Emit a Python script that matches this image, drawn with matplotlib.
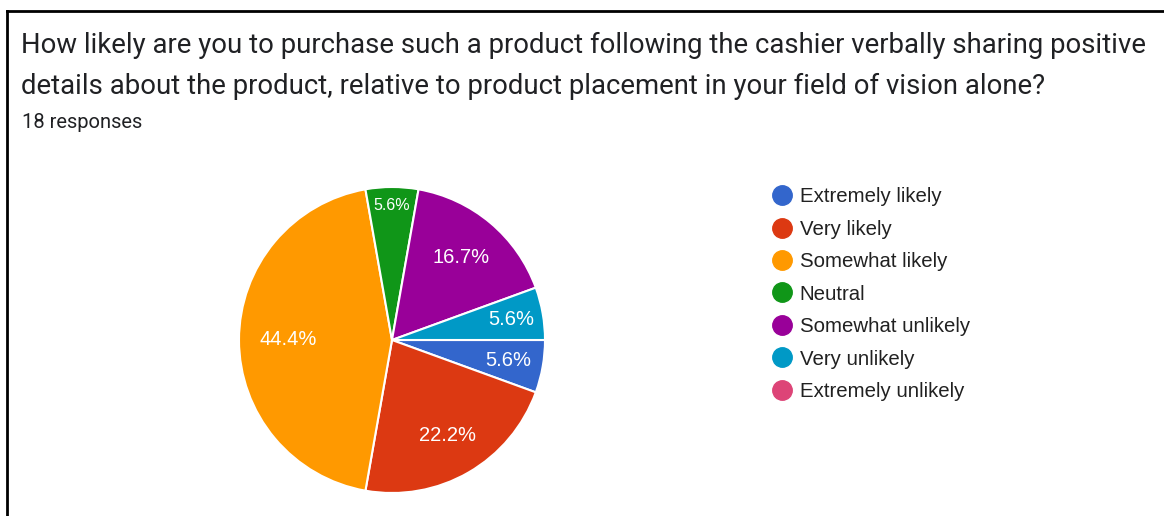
import numpy as np
import matplotlib.pyplot as plt
from matplotlib.lines import Line2D

# responses per answer (18 total)
answers = ["Extremely likely", "Very likely", "Somewhat likely", "Neutral",
           "Somewhat unlikely", "Very unlikely", "Extremely unlikely"]
counts = [1, 4, 8, 1, 3, 1, 0]
colors = ["#3366cc", "#dc3912", "#ff9900", "#109618",
          "#990099", "#0099c6", "#dd4477"]
label_dist = [0.77, 0.72, 0.68, 0.88, 0.70, 0.79]
label_size = [14.5, 14.5, 14.5, 11.5, 14.5, 14.5]

title = ("How likely are you to purchase such a product following the cashier verbally sharing positive\n"
         "details about the product, relative to product placement in your field of vision alone?")
subtitle = "18 responses"

W, H = 1164, 516
fig = plt.figure(figsize=(W / 100, H / 100), dpi=100)

# card border: left and top edges only
fig.add_artist(Line2D([7 / W, 7 / W], [0, 1 - 11 / H], transform=fig.transFigure,
                      color="black", lw=2))
fig.add_artist(Line2D([7 / W, 1], [1 - 11 / H, 1 - 11 / H], transform=fig.transFigure,
                      color="black", lw=2))

fig.text(21 / W, 1 - 45 / H, title.split("\n")[0], ha="left", va="center", fontsize=19.8,
         family="Roboto", color="#202124")
fig.text(21 / W, 1 - 86 / H, title.split("\n")[1], ha="left", va="center", fontsize=19.8,
         family="Roboto", color="#202124")
fig.text(22 / W, 1 - 122 / H, subtitle, ha="left", va="center", fontsize=14.5,
         family="Roboto", color="#202124")

cx, cy, r = 392, 516 - 340, 153
ax = fig.add_axes([(cx - r) / W, (cy - r) / H, 2 * r / W, 2 * r / H])
nz = [(c, col) for c, col in zip(counts, colors) if c > 0]
wedges, _ = ax.pie([c for c, _ in nz], colors=[col for _, col in nz], startangle=0,
                   counterclock=False, radius=1,
                   wedgeprops=dict(edgecolor="white", linewidth=1.5))
total = sum(counts)
for w, (c, _), d, fs in zip(wedges, nz, label_dist, label_size):
    ang = np.deg2rad((w.theta1 + w.theta2) / 2)
    ax.text(d * np.cos(ang), d * np.sin(ang), f"{100 * c / total:.1f}%",
            ha="center", va="center", color="white", fontsize=fs,
            family="Liberation Sans")
ax.set_xlim(-1, 1)
ax.set_ylim(-1, 1)
ax.set_aspect("equal")

handles = [Line2D([], [], marker="o", ls="", color=col, markersize=14) for col in colors]
fig.legend(handles, answers, loc="upper left", bbox_to_anchor=(760 / W, 1 - 177 / H),
           frameon=False, prop=dict(family="Liberation Sans", size=14.7),
           labelspacing=0.66, handletextpad=0.25, handlelength=1.2, borderpad=0,
           labelcolor="#212121")

fig.savefig("out.png", dpi=100, facecolor="white")
